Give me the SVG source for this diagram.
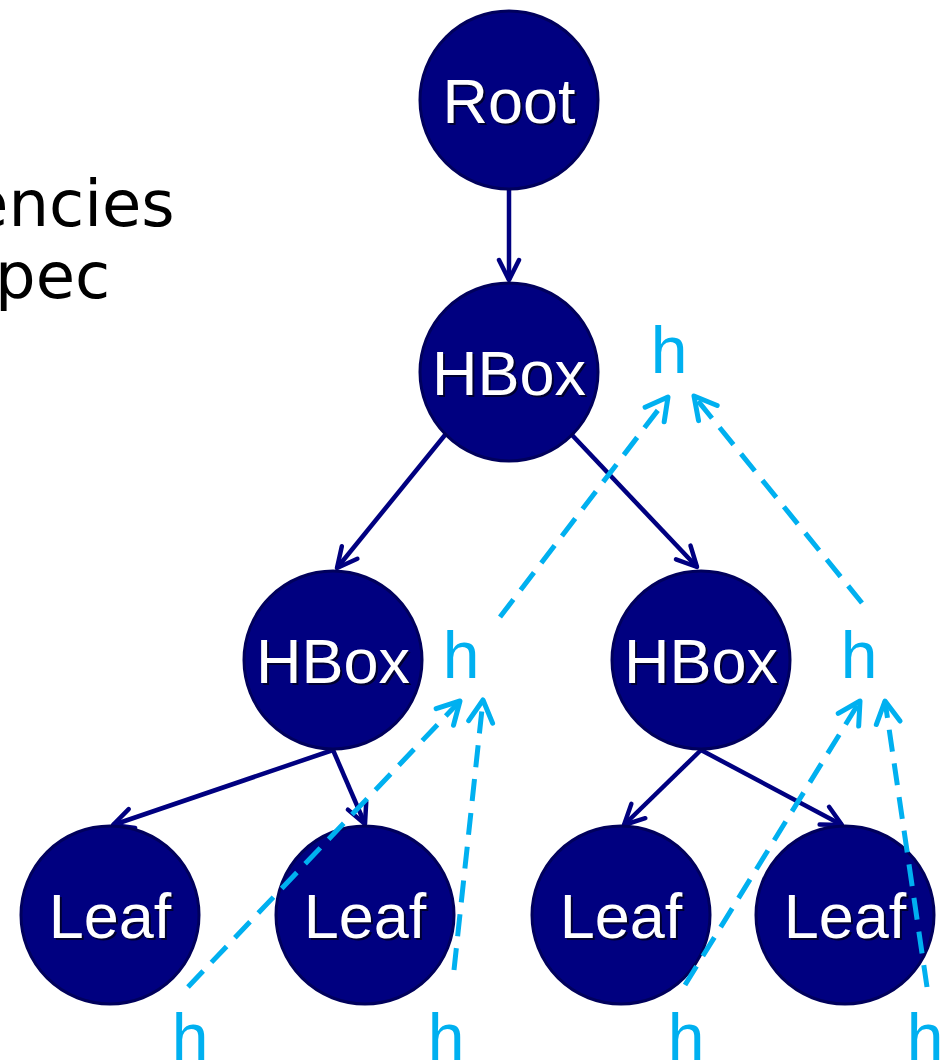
<svg xmlns="http://www.w3.org/2000/svg" width="949" height="1063" viewBox="0 0 949 1063">
  <style>
    .node circle { fill: #000080; stroke: #00005c; stroke-width: 3; }
    .node text { font-family: "Liberation Sans", Arial, sans-serif; font-size: 63px; fill: #ffffff; text-anchor: middle; }
    .node text.shadow { fill: #000030; }
    .edge { stroke: #000080; stroke-width: 4.5; fill: none; marker-end: url(#navyHead); }
    .flow { stroke: #00b0f0; stroke-width: 5; fill: none; stroke-dasharray: 22 12; marker-end: url(#cyanHead); }
    .attr { font-family: "Liberation Sans", Arial, sans-serif; font-size: 66px; fill: #00b0f0; text-anchor: middle; }
    .caption { font-family: "DejaVu Sans", Verdana, sans-serif; font-size: 64px; fill: #000000; }
  </style>
  <defs>
    <marker id="navyHead" markerUnits="userSpaceOnUse" markerWidth="40" markerHeight="40" viewBox="-30 -20 40 40" refX="0" refY="0" orient="auto">
      <path d="M -20 -10 L 0 0 L -20 10" fill="none" stroke="#000080" stroke-width="4.5" stroke-linecap="round" stroke-linejoin="round"/>
    </marker>
    <marker id="cyanHead" markerUnits="userSpaceOnUse" markerWidth="40" markerHeight="40" viewBox="-30 -20 40 40" refX="0" refY="0" orient="auto">
      <path d="M -22 -12 L 0 0 L -22 12" fill="none" stroke="#00b0f0" stroke-width="5" stroke-linecap="round" stroke-linejoin="round"/>
    </marker>
  </defs>

  <rect width="949" height="1063" fill="#ffffff"/>

  <!-- caption fragment at the left edge -->
  <text class="caption" x="-31" y="226">encies</text>
  <text class="caption" x="-5" y="298">pec</text>

  <!-- tree edges -->
  <g id="edges">
    <line class="edge" x1="509" y1="190" x2="509" y2="280"/>
    <line class="edge" x1="445" y1="435" x2="337" y2="568"/>
    <line class="edge" x1="572" y1="435" x2="697" y2="567"/>
    <line class="edge" x1="333" y1="750" x2="113" y2="825"/>
    <line class="edge" x1="333" y1="750" x2="365" y2="824"/>
    <line class="edge" x1="701" y1="750" x2="624" y2="825"/>
    <line class="edge" x1="701" y1="750" x2="842" y2="825"/>
  </g>

  <!-- nodes -->
  <g id="root" class="node">
    <circle cx="509" cy="100" r="89"/>
    <text class="shadow" x="511" y="125">Root</text>
    <text x="509" y="123">Root</text>
  </g>
  <g id="hbox-top" class="node">
    <circle cx="509" cy="372" r="89"/>
    <text class="shadow" x="511" y="397">HBox</text>
    <text x="509" y="395">HBox</text>
  </g>
  <g id="hbox-left" class="node">
    <circle cx="333" cy="660" r="89"/>
    <text class="shadow" x="335" y="685">HBox</text>
    <text x="333" y="683">HBox</text>
  </g>
  <g id="hbox-right" class="node">
    <circle cx="701" cy="660" r="89"/>
    <text class="shadow" x="703" y="685">HBox</text>
    <text x="701" y="683">HBox</text>
  </g>
  <g id="leaf-1" class="node">
    <circle cx="110" cy="915" r="89"/>
    <text class="shadow" x="112" y="940">Leaf</text>
    <text x="110" y="938">Leaf</text>
  </g>
  <g id="leaf-2" class="node">
    <circle cx="365" cy="915" r="89"/>
    <text class="shadow" x="367" y="940">Leaf</text>
    <text x="365" y="938">Leaf</text>
  </g>
  <g id="leaf-3" class="node">
    <circle cx="621" cy="915" r="89"/>
    <text class="shadow" x="623" y="940">Leaf</text>
    <text x="621" y="938">Leaf</text>
  </g>
  <g id="leaf-4" class="node">
    <circle cx="845" cy="915" r="89"/>
    <text class="shadow" x="847" y="940">Leaf</text>
    <text x="845" y="938">Leaf</text>
  </g>

  <!-- height attribute flow -->
  <g id="attribute-flow">
    <line class="flow" x1="188" y1="987" x2="460" y2="701"/>
    <line class="flow" x1="454" y1="970" x2="483" y2="700"/>
    <line class="flow" x1="685" y1="985" x2="860" y2="701"/>
    <line class="flow" x1="927" y1="987" x2="885" y2="701"/>
    <line class="flow" x1="500" y1="617" x2="668" y2="397"/>
    <line class="flow" x1="862" y1="603" x2="694" y2="396"/>
  </g>

  <!-- attribute labels -->
  <g id="attr-top"><text class="attr" x="669" y="373">h</text></g>
  <g id="attr-hbox-left"><text class="attr" x="461" y="678">h</text></g>
  <g id="attr-hbox-right"><text class="attr" x="859" y="678">h</text></g>
  <g id="attr-leaf-1"><text class="attr" x="190" y="1060">h</text></g>
  <g id="attr-leaf-2"><text class="attr" x="446" y="1060">h</text></g>
  <g id="attr-leaf-3"><text class="attr" x="686" y="1060">h</text></g>
  <g id="attr-leaf-4"><text class="attr" x="925" y="1060">h</text></g>
</svg>
